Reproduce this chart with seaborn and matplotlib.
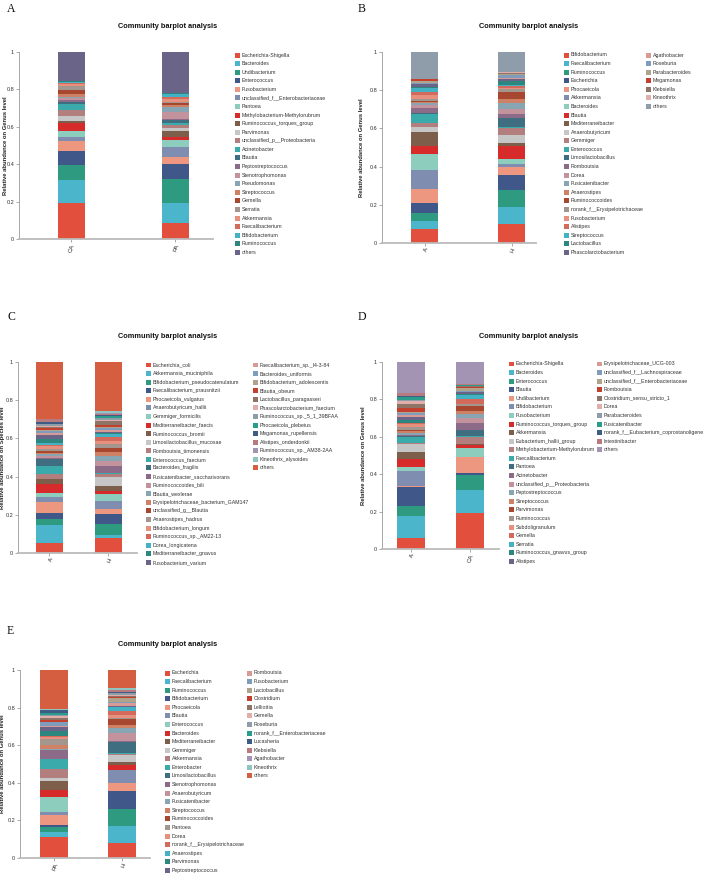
import numpy as np
import pandas as pd
import matplotlib
matplotlib.use("Agg")
import matplotlib.pyplot as plt
import seaborn as sns
from matplotlib.patches import Rectangle

plt.rcParams['font.family'] = ['Liberation Sans', 'DejaVu Sans']

W, H = 703, 875

PALETTE = ['#E24F3C', '#4BB5CB', '#2E9B80', '#3F5789', '#EE9780', '#7F8DB1', '#8CCDBD', '#D72A2A',
           '#7C5E4A', '#C6C6C6', '#B27F7E', '#3AAAAA', '#3E6E80', '#8C6B88', '#C3939D', '#88A5B4',
           '#CF8165', '#A7472F', '#A3968E', '#E8907E', '#D36A5C', '#44B2C5', '#2E877E', '#6B6489',
           '#D89A95', '#7F9CBD', '#B0A38B', '#C3402F', '#8E7467', '#E2AEA9', '#8E9DA9', '#2A9C8C',
           '#3E5C84', '#B87A7F', '#A394B3', '#8FC5C0', '#D55E40']

Y_TICKS = [0, 0.2, 0.4, 0.6, 0.8, 1.0]
Y_TICK_LABELS = ['0', '0.2', '0.4', '0.6', '0.8', '1']
TITLE = 'Community barplot analysis'

# ---------------- Panel A ----------------
a_samples = ['CA', 'PA']
a_taxa = ['Escherichia-Shigella', 'Bacteroides', 'Undibacterium', 'Enterococcus', 'Fusobacterium',
          'unclassified_f__Enterobacteriaceae', 'Pantoea', 'Methylobacterium-Methylorubrum',
          'Ruminococcus_torques_group', 'Parvimonas', 'unclassified_p__Proteobacteria', 'Acinetobacter',
          'Blautia', 'Peptostreptococcus', 'Stenotrophomonas', 'Pseudomonas', 'Streptococcus', 'Gemella',
          'Serratia', 'Akkermansia', 'Faecalibacterium', 'Bifidobacterium', 'Ruminococcus', 'others']
a_CA = [0.194, 0.119, 0.082, 0.078, 0.052, 0.020, 0.034, 0.041, 0.011, 0.028, 0.032, 0.030, 0.009,
        0.014, 0.011, 0.007, 0.014, 0.021, 0.023, 0.009, 0.005, 0.004, 0.005, 0.157]
a_PA = [0.087, 0.105, 0.128, 0.080, 0.036, 0.057, 0.034, 0.021, 0.030, 0.018, 0.012, 0.011, 0.016,
        0.009, 0.034, 0.027, 0.011, 0.009, 0.007, 0.016, 0.009, 0.018, 0.005, 0.220]

# ---------------- Panel B ----------------
b_samples = ['A', 'H']
b_taxa = ['Bifidobacterium', 'Faecalibacterium', 'Ruminococcus', 'Escherichia', 'Phocaeicola',
          'Akkermansia', 'Bacteroides', 'Blautia', 'Mediterraneibacter', 'Anaerobutyricum', 'Gemmiger',
          'Enterococcus', 'Limosilactobacillus', 'Romboutsia', 'Dorea', 'Fusicatenibacter', 'Anaerostipes',
          'Ruminococcoides', 'norank_f__Erysipelotrichaceae', 'Fusobacterium', 'Alistipes',
          'Streptococcus', 'Lactobacillus', 'Phascolarctobacterium', 'Agathobacter', 'Roseburia',
          'Parabacteroides', 'Megamonas', 'Klebsiella', 'Kineothrix', 'others']
b_A = [0.072, 0.042, 0.044, 0.051, 0.073, 0.098, 0.086, 0.040, 0.075, 0.026, 0.023, 0.047, 0.005,
       0.023, 0.016, 0.010, 0.007, 0.005, 0.009, 0.023, 0.017, 0.021, 0.005, 0.012, 0.005, 0.005,
       0.007, 0.010, 0.002, 0.002, 0.139]
b_H = [0.098, 0.091, 0.089, 0.079, 0.042, 0.014, 0.026, 0.068, 0.017, 0.040, 0.040, 0.005, 0.047,
       0.021, 0.023, 0.035, 0.021, 0.033, 0.019, 0.003, 0.009, 0.009, 0.021, 0.009, 0.007, 0.012,
       0.005, 0.003, 0.003, 0.005, 0.106]

# ---------------- Panel C ----------------
c_samples = ['A', 'H']
c_taxa = ['Escherichia_coli', 'Akkermansia_muciniphila', 'Bifidobacterium_pseudocatenulatum',
          'Faecalibacterium_prausnitzii', 'Phocaeicola_vulgatus', 'Anaerobutyricum_hallii',
          'Gemmiger_formicilis', 'Mediterraneibacter_faecis', 'Ruminococcus_bromii',
          'Limosilactobacillus_mucosae', 'Romboutsia_timonensis', 'Enterococcus_faecium',
          'Bacteroides_fragilis', 'Fusicatenibacter_saccharivorans', 'Ruminococcoides_bili',
          'Blautia_wexlerae', 'Erysipelotrichaceae_bacterium_GAM147', 'unclassified_g__Blautia',
          'Anaerostipes_hadrus', 'Bifidobacterium_longum', 'Ruminococcus_sp._AM22-13',
          'Dorea_longicatena', 'Mediterraneibacter_gnavus', 'Fusobacterium_varium',
          'Faecalibacterium_sp._I4-3-84', 'Bacteroides_uniformis', 'Bifidobacterium_adolescentis',
          'Blautia_obeum', 'Lactobacillus_paragasseri', 'Phascolarctobacterium_faecium',
          'Ruminococcus_sp._5_1_39BFAA', 'Phocaeicola_plebeius', 'Megamonas_rupellensis',
          'Alistipes_onderdonkii', 'Ruminococcus_sp._AM38-2AA', 'Kineothrix_alysoides', 'others']
c_A = [0.051, 0.098, 0.030, 0.030, 0.056, 0.028, 0.023, 0.047, 0.023, 0.003, 0.023, 0.044, 0.037,
       0.007, 0.009, 0.009, 0.007, 0.010, 0.009, 0.017, 0.007, 0.010, 0.017, 0.024, 0.010, 0.009,
       0.005, 0.010, 0.005, 0.009, 0.007, 0.003, 0.010, 0.012, 0.002, 0.002, 0.297]
c_H = [0.079, 0.014, 0.058, 0.054, 0.023, 0.045, 0.038, 0.012, 0.030, 0.047, 0.014, 0.003, 0.002,
       0.035, 0.030, 0.026, 0.019, 0.019, 0.024, 0.014, 0.021, 0.017, 0.005, 0.007, 0.010, 0.009,
       0.007, 0.009, 0.019, 0.007, 0.009, 0.012, 0.003, 0.007, 0.007, 0.010, 0.255]

# ---------------- Panel D ----------------
d_samples = ['A', 'CA']
d_taxa = ['Escherichia-Shigella', 'Bacteroides', 'Enterococcus', 'Blautia', 'Undibacterium',
          'Bifidobacterium', 'Fusobacterium', 'Ruminococcus_torques_group', 'Akkermansia',
          'Eubacterium_hallii_group', 'Methylobacterium-Methylorubrum', 'Faecalibacterium', 'Pantoea',
          'Acinetobacter', 'unclassified_p__Proteobacteria', 'Peptostreptococcus', 'Streptococcus',
          'Parvimonas', 'Ruminococcus', 'Subdoligranulum', 'Gemella', 'Serratia',
          'Ruminococcus_gnavus_group', 'Alistipes', 'Erysipelotrichaceae_UCG-003',
          'unclassified_f__Lachnospiraceae', 'unclassified_f__Enterobacteriaceae', 'Romboutsia',
          'Clostridium_sensu_stricto_1', 'Dorea', 'Parabacteroides', 'Fusicatenibacter',
          'norank_f__Eubacterium_coprostanoligene', 'Intestinibacter', 'others']
d_A = [0.060, 0.114, 0.055, 0.105, 0.004, 0.080, 0.020, 0.043, 0.039, 0.041, 0.004, 0.032, 0.005,
       0.005, 0.004, 0.011, 0.009, 0.005, 0.016, 0.018, 0.002, 0.002, 0.018, 0.012, 0.012, 0.012,
       0.005, 0.023, 0.018, 0.020, 0.005, 0.016, 0.005, 0.012, 0.168]
d_CA = [0.195, 0.121, 0.082, 0.011, 0.082, 0.002, 0.046, 0.018, 0.002, 0.002, 0.037, 0.007, 0.032,
        0.036, 0.028, 0.021, 0.018, 0.027, 0.007, 0.002, 0.025, 0.025, 0.004, 0.007, 0.004, 0.004,
        0.018, 0.002, 0.005, 0.002, 0.002, 0.002, 0.002, 0.002, 0.120]

# ---------------- Panel E ----------------
e_samples = ['PA', 'H']
e_taxa = ['Escherichia', 'Faecalibacterium', 'Ruminococcus', 'Bifidobacterium', 'Phocaeicola', 'Blautia',
          'Enterococcus', 'Bacteroides', 'Mediterraneibacter', 'Gemmiger', 'Akkermansia', 'Enterobacter',
          'Limosilactobacillus', 'Stenotrophomonas', 'Anaerobutyricum', 'Fusicatenibacter',
          'Streptococcus', 'Ruminococcoides', 'Pantoea', 'Dorea', 'norank_f__Erysipelotrichaceae',
          'Anaerostipes', 'Parvimonas', 'Peptostreptococcus', 'Romboutsia', 'Fusobacterium',
          'Lactobacillus', 'Clostridium', 'Lelliottia', 'Gemella', 'Roseburia',
          'norank_f__Enterobacteriaceae', 'Lucasheria', 'Klebsiella', 'Agathobacter', 'Kineothrix',
          'others']
e_PA = [0.113, 0.027, 0.023, 0.011, 0.053, 0.019, 0.076, 0.039, 0.051, 0.016, 0.046, 0.051, 0.002,
        0.046, 0.002, 0.004, 0.021, 0.002, 0.032, 0.009, 0.004, 0.004, 0.025, 0.021, 0.004, 0.021,
        0.004, 0.009, 0.009, 0.011, 0.004, 0.014, 0.012, 0.002, 0.002, 0.002, 0.209]
e_H = [0.080, 0.092, 0.090, 0.094, 0.041, 0.069, 0.004, 0.027, 0.016, 0.037, 0.005, 0.004, 0.060,
       0.004, 0.041, 0.030, 0.011, 0.032, 0.007, 0.018, 0.018, 0.023, 0.002, 0.002, 0.019, 0.002,
       0.021, 0.009, 0.004, 0.005, 0.011, 0.002, 0.002, 0.009, 0.002, 0.009, 0.098]

fig = plt.figure(figsize=(W / 100, H / 100), dpi=100)
fig.patch.set_facecolor('white')


def fx(px):
    return px / W


def fy(py):
    return 1 - py / H


def panel(letter, letter_xy, title_xy, box, xlim, width, samples, taxa, values, ylabel,
          ylabel_x, legend_cols):
    x0, x1, ytop, ybot = box
    ax = fig.add_axes([fx(x0), fy(ybot), fx(x1 - x0), (ybot - ytop) / H])
    rows = []
    for s, vals in zip(samples, values):
        cum = np.cumsum(vals)
        for t, c in zip(taxa, cum):
            rows.append({'sample': s, 'taxon': t, 'cum': float(c)})
    df = pd.DataFrame(rows)
    pal = {t: PALETTE[i % len(PALETTE)] for i, t in enumerate(taxa)}
    sns.barplot(data=df, x='sample', y='cum', hue='taxon', order=samples,
                hue_order=taxa[::-1], palette=pal, dodge=False, width=width,
                saturation=1, errorbar=None, legend=False, linewidth=0, ax=ax)
    ax.set_xlim(*xlim)
    ax.set_ylim(0, 1)
    ax.set_yticks(Y_TICKS)
    ax.set_yticklabels(Y_TICK_LABELS, fontsize=4, color='#333333')
    ax.tick_params(axis='y', length=2, width=0.5, color='#888888', pad=1.5)
    ax.tick_params(axis='x', length=2, width=0.5, color='#888888', pad=1)
    for lab in ax.get_xticklabels():
        lab.set_rotation(70)
        lab.set_ha('right')
        lab.set_rotation_mode('anchor')
        lab.set_fontsize(4.5)
        lab.set_color('#333333')
    ax.set_xlabel('')
    ax.set_ylabel(ylabel, fontsize=4.2, fontweight='bold', color='#222222')
    ax.yaxis.set_label_coords((ylabel_x - x0) / (x1 - x0), 0.5)
    for sp in ['top', 'right']:
        ax.spines[sp].set_visible(False)
    ax.spines['left'].set_color('#999999')
    ax.spines['left'].set_linewidth(0.6)
    ax.spines['bottom'].set_color('#BBBBBB')
    ax.spines['bottom'].set_linewidth(1.3)
    ax.set_facecolor('white')

    fig.text(fx(letter_xy[0]), fy(letter_xy[1]), letter, fontsize=8.5,
             family=['Liberation Serif', 'DejaVu Serif'], ha='left', va='center', color='#111111')
    fig.text(fx(title_xy[0]), fy(title_xy[1]), TITLE, fontsize=5.3, fontweight='bold',
             ha='center', va='center', color='#111111')

    # legend (swatches and labels)
    step = 8.58
    sq = 5.0
    idx = 0
    for (lx, ly0, nrows) in legend_cols:
        for r in range(nrows):
            if idx >= len(taxa):
                break
            cy = ly0 + r * step
            fig.add_artist(Rectangle((fx(lx), fy(cy + sq / 2)), fx(sq), sq / H,
                                     transform=fig.transFigure, facecolor=pal[taxa[idx]],
                                     edgecolor='none'))
            fig.text(fx(lx + sq + 2.0), fy(cy), taxa[idx], fontsize=3.75, ha='left',
                     va='center', color='#333333')
            idx += 1
    return ax


panel('A', (7, 9), (168, 27), (19, 213, 52, 239), (-0.5, 1.36), 0.26,
      a_samples, a_taxa, [a_CA, a_PA], 'Relative abundance on Genus level', 8,
      [(235, 55, 24)])

panel('B', (358, 9), (529, 27), (382, 536, 52, 243), (-0.49, 1.28), 0.31,
      b_samples, b_taxa, [b_A, b_H], 'Relative abundance on Genus level', 364,
      [(564, 55, 24), (646, 55, 24)])

panel('C', (7, 317), (168, 337), (18, 137, 362, 553), (-0.53, 1.49), 0.46,
      c_samples, c_taxa, [c_A, c_H], 'Relative abundance on Species level', 5,
      [(146, 365, 24), (253, 365, 24)])

panel('D', (358, 317), (529, 337), (382, 499, 362, 549), (-0.49, 1.49), 0.46,
      d_samples, d_taxa, [d_A, d_CA], 'Relative abundance on Genus level', 366,
      [(509, 364, 24), (597, 364, 24)])

panel('E', (7, 631), (168, 645), (20, 150, 670, 858), (-0.5, 1.41), 0.40,
      e_samples, e_taxa, [e_PA, e_H], 'Relative abundance on Genus level', 5,
      [(165, 673, 24), (247, 673, 24)])

fig.savefig('out.png', dpi=100, facecolor='white')
